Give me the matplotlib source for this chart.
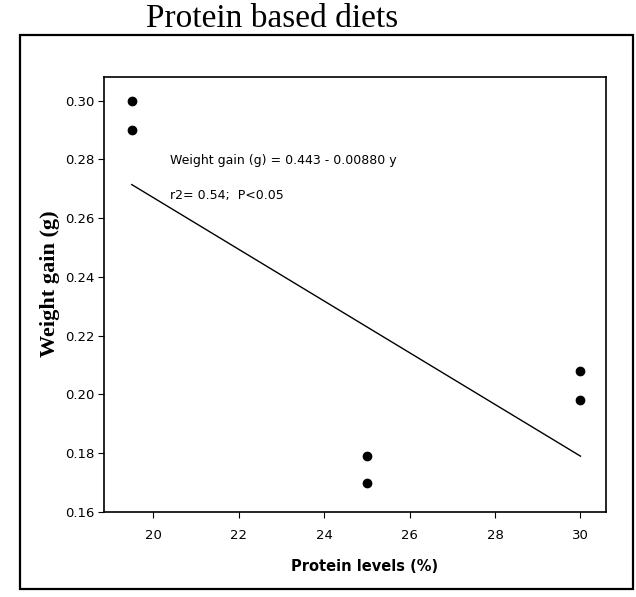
import matplotlib.pyplot as plt
from matplotlib.patches import Rectangle

# Weight gain measured at each protein level (two replicates per level)
protein = [19.5, 19.5, 25, 25, 30, 30]
weight_gain = [0.300, 0.290, 0.179, 0.170, 0.208, 0.198]

# Fitted regression: weight gain = a + b * protein
intercept = 0.443
slope = -0.00880
r2 = 0.54

xticks = [20, 22, 24, 26, 28, 30]
yticks = [0.16, 0.18, 0.20, 0.22, 0.24, 0.26, 0.28, 0.30]

sans = 'DejaVu Sans'
serif = 'Liberation Serif'

fig = plt.figure(figsize=(6.36, 5.97), dpi=100)
ax = fig.add_axes([0.1635, 0.1424, 0.7895, 0.7286])

ax.plot(protein, weight_gain, 'o', color='black', markersize=6)

xfit = [min(protein), max(protein)]
yfit = [intercept + slope * x for x in xfit]
ax.plot(xfit, yfit, color='black', linewidth=1.0)

ax.text(20.4, 0.2795,
        f"Weight gain (g) = {intercept:.3f} - {abs(slope):.5f} y",
        family=sans, fontsize=9, va='center')
ax.text(20.4, 0.2677, f"r2= {r2:.2f};  P<0.05",
        family=sans, fontsize=9, va='center')

ax.set_xlim(18.85, 30.6)
ax.set_ylim(0.16, 0.308)
ax.set_xticks(xticks)
ax.set_yticks(yticks)
ax.set_xticklabels([str(t) for t in xticks])
ax.set_yticklabels([f"{t:.2f}" for t in yticks])
for lab in ax.get_xticklabels() + ax.get_yticklabels():
    lab.set_family(sans)
    lab.set_fontsize(9.5)
ax.tick_params(direction='out', length=4, width=0.8, pad=3)
ax.tick_params(axis='x', pad=8)
for s in ax.spines.values():
    s.set_linewidth(1.2)

ax.set_xlabel("Protein levels (%)", family=sans, fontsize=10.5,
              fontweight='bold')
ax.xaxis.set_label_coords(0.518, -0.108)
ax.set_ylabel("Weight gain (g)", family=serif, fontsize=16,
              fontweight='bold', va='center')
ax.yaxis.set_label_coords(-0.108, 0.526)

# heading right at the top edge of the page
fig.text(272 / 636, 1 - 27 / 597, "Protein based diets", family=serif,
         fontsize=24, ha='center', va='baseline')

# outer frame around the figure panel
fig.patches.append(Rectangle((20 / 636, 1 - 589 / 597), 613 / 636, 554 / 597,
                             transform=fig.transFigure, fill=False,
                             edgecolor='black', linewidth=1.6))

fig.savefig("out.png", dpi=100)
